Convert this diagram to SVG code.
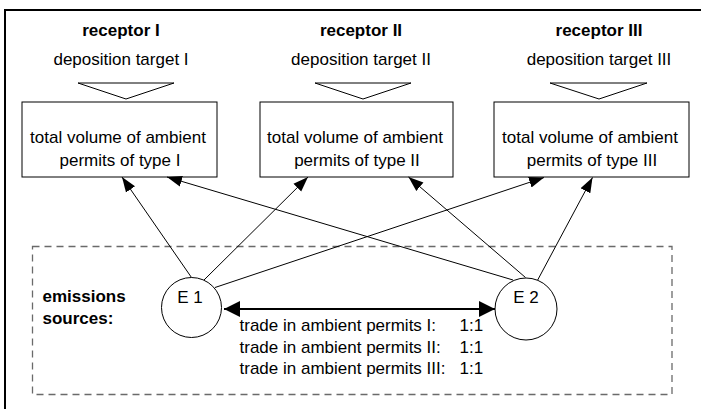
<svg xmlns="http://www.w3.org/2000/svg" width="701" height="409" viewBox="0 0 701 409">
<style>
text{font-family:"Liberation Sans",Arial,sans-serif;font-size:17px;fill:#000}
.b{font-weight:bold}
.c{text-anchor:middle}
.box{fill:#fff;stroke:#000;stroke-width:1}
.tri{fill:#fff;stroke:#000;stroke-width:1}
.circ{fill:#fff;stroke:#000;stroke-width:1}
.con{stroke:#000;stroke-width:1;fill:none}
</style>
<defs>
<marker id="ah" markerUnits="userSpaceOnUse" markerWidth="16" markerHeight="12" refX="15" refY="6" orient="auto">
<path d="M0,0.5 L15,6 L0,11.5 z" fill="#000"/>
</marker>
<marker id="ah2" markerUnits="userSpaceOnUse" markerWidth="17" markerHeight="17" refX="16" refY="8" orient="auto-start-reverse">
<path d="M0,0 L16,8 L0,16 z" fill="#000"/>
</marker>
</defs>
<rect width="701" height="409" fill="#fff"/>
<path d="M5,409 V10 H701" fill="none" stroke="#000" stroke-width="2"/>
<rect x="32.5" y="246.5" width="639.5" height="148" fill="none" stroke="#6a6a6a" stroke-width="1.3" stroke-dasharray="7,5"/>
<g id="receptor1">
<text class="b c" x="121" y="36">receptor I</text>
<text class="c" x="121" y="65">deposition target I</text>
<polygon class="tri" points="78,83 174,83 126,99"/>
<rect class="box" x="22" y="102" width="195" height="75"/>
<text class="c" x="118" y="143">total volume of ambient</text>
<text class="c" x="120" y="166">permits of type I</text>
</g>
<g id="receptor2">
<text class="b c" x="361" y="36">receptor II</text>
<text class="c" x="361" y="65">deposition target II</text>
<polygon class="tri" points="315,83 411,83 363,99"/>
<rect class="box" x="260" y="102" width="193" height="75"/>
<text class="c" x="355" y="143">total volume of ambient</text>
<text class="c" x="357" y="166">permits of type II</text>
</g>
<g id="receptor3">
<text class="b c" x="599" y="36">receptor III</text>
<text class="c" x="599" y="65">deposition target III</text>
<polygon class="tri" points="550,83 647,83 599,99"/>
<rect class="box" x="494" y="102" width="195" height="75"/>
<text class="c" x="590" y="143">total volume of ambient</text>
<text class="c" x="592" y="166">permits of type III</text>
</g>
<g id="label">
<text class="b" x="42.5" y="302">emissions</text>
<text class="b" x="42.5" y="323.5">sources:</text>
</g>
<g id="connectors">
<line class="con" x1="191.5" y1="277.5" x2="122" y2="177" marker-end="url(#ah)"/>
<line class="con" x1="204" y1="280" x2="308" y2="177" marker-end="url(#ah)"/>
<line class="con" x1="215" y1="287.5" x2="544" y2="177.5" marker-end="url(#ah)"/>
<line class="con" x1="513" y1="280" x2="167" y2="177" marker-end="url(#ah)"/>
<line class="con" x1="525.5" y1="277.5" x2="408.5" y2="177" marker-end="url(#ah)"/>
<line class="con" x1="535" y1="285" x2="592.5" y2="177.5" marker-end="url(#ah)"/>
<line x1="224" y1="309" x2="495" y2="309" stroke="#000" stroke-width="2" marker-start="url(#ah2)" marker-end="url(#ah2)"/>
</g>
<g id="E1">
<circle class="circ" cx="191.5" cy="307.5" r="30"/>
<text class="c" x="190" y="303">E 1</text>
</g>
<g id="E2">
<circle class="circ" cx="526" cy="309" r="31"/>
<text class="c" x="526" y="303">E 2</text>
</g>
<g id="trade">
<text x="239.5" y="330.5">trade in ambient permits I:</text>
<text x="239.5" y="352.5">trade in ambient permits II:</text>
<text x="239.5" y="374">trade in ambient permits III:</text>
<text x="459.5" y="330.5">1:1</text>
<text x="459.5" y="352.5">1:1</text>
<text x="459.5" y="374">1:1</text>
</g>
</svg>
